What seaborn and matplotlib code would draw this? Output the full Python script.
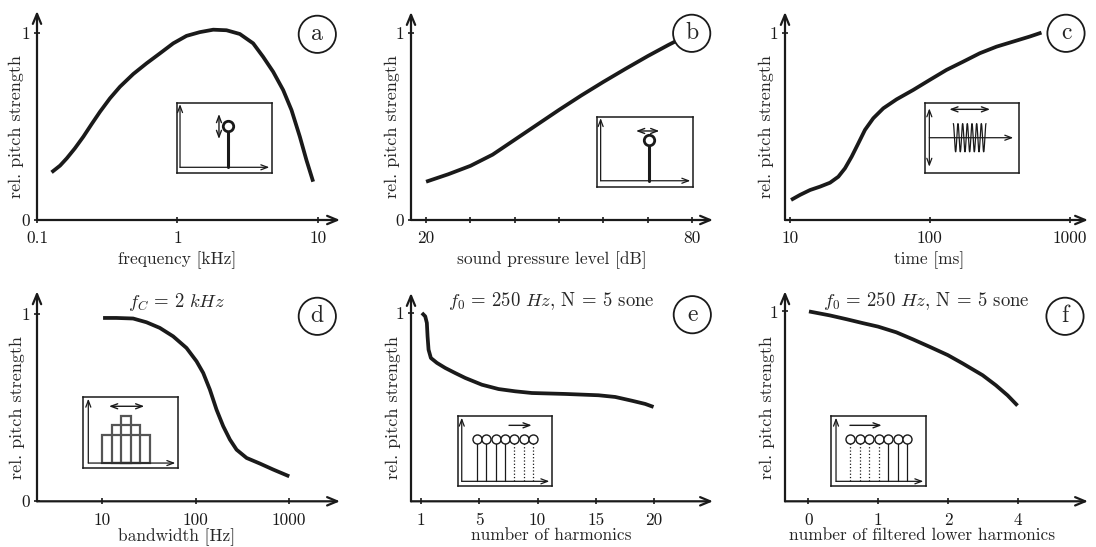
import numpy as np
import pandas as pd
import seaborn as sns
import matplotlib.pyplot as plt

sns.set_theme(style="white")
plt.rcParams['font.family'] = ['cmr10', 'DejaVu Serif']
plt.rcParams['mathtext.fontset'] = 'cm'
plt.rcParams['axes.unicode_minus'] = False

# curve values
freq_khz = [0.127, 0.146, 0.163, 0.186, 0.214, 0.245, 0.281, 0.331, 0.39, 0.485, 0.603, 0.75,
            0.934, 1.162, 1.446, 1.8, 2.238, 2.785, 3.465, 4.08, 4.81, 5.67, 6.5, 7.45, 8.3, 9.27]
freq_ps = [0.255, 0.291, 0.33, 0.383, 0.446, 0.513, 0.579, 0.651, 0.713, 0.781, 0.838, 0.891,
           0.945, 0.985, 1.005, 1.018, 1.015, 0.995, 0.945, 0.873, 0.793, 0.695, 0.588, 0.446, 0.321, 0.205]

spl_db = [20, 25, 30, 35, 40, 45, 50, 55, 60, 65, 70, 74.6, 77.5]
spl_ps = [0.205, 0.245, 0.29, 0.35, 0.43, 0.51, 0.59, 0.667, 0.74, 0.81, 0.878, 0.937, 0.972]

time_ms = [10.16, 11.79, 13.9, 16.38, 19.31, 22.14, 24.71, 27.57, 30.77, 34.34, 39.37, 46.42,
           57.8, 76.0, 100, 131.5, 173, 227.6, 299.4, 393.8, 517.9, 627.9]
time_ps = [0.107, 0.134, 0.16, 0.178, 0.199, 0.231, 0.276, 0.338, 0.409, 0.481, 0.543, 0.596,
           0.644, 0.694, 0.748, 0.801, 0.845, 0.89, 0.925, 0.952, 0.979, 1.0]

bw_hz = [10.26, 14.24, 21.47, 29.83, 41.4, 57.5, 79.88, 102.2, 120.4, 141.9, 167.2, 197,
         232.2, 273.6, 350.1, 486.1, 674.8, 1000]
bw_ps = [0.977, 0.977, 0.974, 0.954, 0.924, 0.879, 0.817, 0.746, 0.684, 0.595, 0.488, 0.4,
         0.329, 0.275, 0.231, 0.201, 0.169, 0.133]

# panel e and f: positions along the (evenly spaced) tick axis
harm_pos = [0.017, 0.074, 0.102, 0.114, 0.131, 0.171, 0.274, 0.417, 0.588, 0.76, 1.046, 1.332,
            1.618, 1.903, 2.475, 3.047, 3.333, 3.619, 3.847, 3.99]
harm_ps = [1.0, 0.982, 0.947, 0.876, 0.805, 0.761, 0.735, 0.708, 0.681, 0.655, 0.619, 0.596,
           0.584, 0.575, 0.57, 0.563, 0.554, 0.534, 0.517, 0.501]
harm_ticks = ['1', '5', '10', '15', '20']

filt_pos = [0.01, 0.309, 0.547, 0.784, 0.998, 1.259, 1.496, 1.734, 1.995, 2.208, 2.493, 2.683, 2.85, 2.992]
filt_ps = [1.0, 0.979, 0.959, 0.938, 0.92, 0.89, 0.853, 0.814, 0.77, 0.726, 0.664, 0.611, 0.558, 0.504]
filt_ticks = ['0', '1', '2', '4']

W, H = 1096, 547
fig = plt.figure(figsize=(W / 100, H / 100), dpi=100)


def px_ax(l, t, r, b):
    return fig.add_axes([l / W, 1 - b / H, (r - l) / W, (b - t) / H])


def frac(box, x, y):
    l, t, r, b = box
    return (x - l) / (r - l), (b - y) / (b - t)


def main_axes(box, xlim, ylim, log=False):
    ax = px_ax(*box)
    if log:
        ax.set_xscale('log')
    ax.set_xlim(*xlim)
    ax.set_ylim(*ylim)
    ax.set_facecolor('none')
    for s in ax.spines.values():
        s.set_visible(False)
    for tip in [(1, 0), (0, 1)]:
        ax.annotate('', xy=tip, xytext=(0, 0), xycoords='axes fraction',
                    arrowprops=dict(arrowstyle='->,head_length=0.6,head_width=0.25', lw=1.6,
                                    color='k', shrinkA=0, shrinkB=0))
    ax.tick_params(direction='inout', length=4, width=1.2, colors='k', labelsize=12.5,
                   bottom=True, left=True)
    ax.tick_params(axis='x', pad=6)
    ax.tick_params(axis='y', pad=3)
    ax.minorticks_off()
    return ax


def labels(ax, box, xlabel, xl_px, yl_px, letter, circ_px, title=None, title_px=None):
    ax.set_xlabel(xlabel, fontsize=12.5)
    fx, fy = frac(box, *xl_px)
    ax.xaxis.set_label_coords(fx, fy)
    ax.set_ylabel('rel. pitch strength', fontsize=13)
    fx, fy = frac(box, *yl_px)
    ax.yaxis.set_label_coords(fx, fy)
    cx, cy = frac(box, *circ_px)
    ax.text(cx, cy, letter, transform=ax.transAxes, ha='center', va='center', fontsize=17,
            zorder=10, bbox=dict(boxstyle='circle,pad=0.32', fc='white', ec='k', lw=1.3))
    if title:
        tx, ty = frac(box, *title_px)
        ax.text(tx, ty, title, transform=ax.transAxes, ha='center', va='center', fontsize=13.5)


def curve(ax, x, y):
    sns.lineplot(x=x, y=y, ax=ax, color='k', lw=2.7, sort=False, solid_capstyle='butt',
                 solid_joinstyle='round')


def inset(box, vx, hy, vtop=0.98, hright=0.975, double_v=False):
    iax = px_ax(*box)
    iax.set_xlim(0, 1)
    iax.set_ylim(0, 1)
    iax.set_xticks([])
    iax.set_yticks([])
    iax.set_facecolor('white')
    for s in iax.spines.values():
        s.set_visible(True)
        s.set_color('k')
        s.set_linewidth(1.1)
    st = '<->' if double_v else '->'
    y0 = hy if not double_v else 0.093
    iax.annotate('', xy=(vx, vtop), xytext=(vx, y0),
                 arrowprops=dict(arrowstyle=st + ',head_length=0.4,head_width=0.15', lw=0.9, color='k',
                                 shrinkA=0, shrinkB=0))
    iax.annotate('', xy=(hright, hy), xytext=(vx, hy),
                 arrowprops=dict(arrowstyle='->,head_length=0.4,head_width=0.15', lw=0.9, color='k',
                                 shrinkA=0, shrinkB=0))
    return iax


def dbl_arrow(iax, x0, y0, x1, y1, style='<->'):
    iax.annotate('', xy=(x1, y1), xytext=(x0, y0),
                 arrowprops=dict(arrowstyle=style + ',head_length=0.4,head_width=0.15', lw=1.0, color='k',
                                 shrinkA=0, shrinkB=0))


# ---- a: frequency
box = (37, 11, 340, 220)
ax = main_axes(box, (0.1, 14.4), (0, 1.118), log=True)
curve(ax, freq_khz, freq_ps)
ax.set_xticks([0.1, 1, 10], ['0.1', '1', '10'])
ax.set_yticks([0, 1], ['0', '1'])
labels(ax, box, 'frequency [kHz]', (176.7, 251), (24, 126.5), 'a', (317.3, 34.3))
iax = inset((176.7, 102.7, 271.7, 173.3), 0.035, 0.085)
iax.plot([0.543, 0.543], [0.085, 0.67], color='k', lw=2.2)
iax.plot([0.543], [0.67], 'o', mfc='white', mec='k', ms=7.5, mew=2)
dbl_arrow(iax, 0.445, 0.486, 0.445, 0.84)

# ---- b: sound pressure level
box = (411, 12, 713, 220)
ax = main_axes(box, (16.6, 84.7), (0, 1.114))
curve(ax, spl_db, spl_ps)
ax.set_xticks([20, 30, 40, 50, 60, 70, 80], ['20', '', '', '', '', '', '80'])
ax.set_yticks([0, 1], ['0', '1'])
labels(ax, box, 'sound pressure level [dB]', (551.7, 251), (400, 126.5), 'b', (691.7, 33.3))
iax = inset((597.3, 116.7, 692.7, 186.7), 0.035, 0.085)
iax.plot([0.539, 0.539], [0.085, 0.667], color='k', lw=2.2)
iax.plot([0.539], [0.667], 'o', mfc='white', mec='k', ms=7.5, mew=2)
dbl_arrow(iax, 0.406, 0.796, 0.65, 0.796)

# ---- c: time
box = (785, 12, 1088, 220)
ax = main_axes(box, (9.2, 1351), (0, 1.11), log=True)
curve(ax, time_ms, time_ps)
ax.set_xticks([10, 100, 1000], ['10', '100', '1000'])
ax.set_yticks([1], ['1'])
labels(ax, box, 'time [ms]', (929.3, 251), (774, 126.5), 'c', (1066, 33.3))
iax = inset((925, 102.7, 1019.3, 173.3), 0.046, 0.504, vtop=0.92, hright=0.936, double_v=True)
# tone burst pictogram
tb = np.linspace(0.30, 0.647, 400)
iax.plot(tb, 0.504 + 0.2 * np.sin(2 * np.pi * 7 * (tb - 0.30) / 0.347 + np.pi / 2), color='k', lw=0.9)
dbl_arrow(iax, 0.258, 0.906, 0.69, 0.906)

# ---- d: bandwidth
box = (37, 291.3, 340, 501.3)
ax = main_axes(box, (2.02, 3483), (0, 1.119), log=True)
curve(ax, bw_hz, bw_ps)
ax.set_xticks([10, 100, 1000], ['10', '100', '1000'])
ax.set_yticks([0, 1], ['0', '1'])
labels(ax, box, 'bandwidth [Hz]', (176.7, 528), (25, 407.5), 'd', (317.3, 316.3),
       r'$f_C\,=\,2\ kHz$', (176.7, 302.3))
iax = inset((82.7, 397.3, 177.7, 468), 0.059, 0.07)
bar_cx = [0.454, 0.454, 0.454]
bar_w = [0.508, 0.298, 0.102]
bar_h = [0.401, 0.534, 0.67]
iax.bar(bar_cx, bar_h, width=bar_w, bottom=0.07, fill=False, edgecolor='#555555', lw=1.6)
dbl_arrow(iax, 0.277, 0.873, 0.648, 0.873)

# ---- e: number of harmonics
box = (411, 293, 713, 501.3)
ax = main_axes(box, (-0.17, 5.01), (0, 1.106))
curve(ax, harm_pos, harm_ps)
ax.set_xticks(range(len(harm_ticks)), harm_ticks)
ax.set_yticks([1], ['1'])
labels(ax, box, 'number of harmonics', (551.7, 528), (401, 407.5), 'e', (692.3, 314.7),
       r'$f_0\,=\,250\ Hz$, N = 5 sone', (551.7, 301.3))
iax = inset((457.7, 416.3, 551.7, 486.3), 0.043, 0.071)
stem_x = [0.202 + 0.1004 * i for i in range(7)]
for i, x in enumerate(stem_x):
    iax.plot([x, x], [0.071, 0.68], color='k', lw=0.9, ls='-' if i < 4 else ':')
iax.plot(stem_x, [0.68] * 7, 'o', ls='none', mfc='white', mec='k', ms=6.5, mew=1.0)
dbl_arrow(iax, 0.546, 0.871, 0.787, 0.871, style='->')

# ---- f: filtered lower harmonics
box = (785, 291.3, 1088, 501.3)
ax = main_axes(box, (-0.333, 4.0), (0, 1.106))
curve(ax, filt_pos, filt_ps)
ax.set_xticks(range(len(filt_ticks)), filt_ticks)
ax.set_yticks([1], ['1'])
labels(ax, box, 'number of filtered lower harmonics', (921.7, 528), (775, 407.5), 'f',
       (1065, 316.3), r'$f_0\,=\,250\ Hz$, N = 5 sone', (926.7, 301.3))
iax = inset((831, 416.3, 925.7, 486.3), 0.053, 0.071)
stem_x = [0.204 + 0.1 * i for i in range(7)]
for i, x in enumerate(stem_x):
    iax.plot([x, x], [0.071, 0.68], color='k', lw=0.9, ls=':' if i < 4 else '-')
iax.plot(stem_x, [0.68] * 7, 'o', ls='none', mfc='white', mec='k', ms=6.5, mew=1.0)
dbl_arrow(iax, 0.2, 0.871, 0.535, 0.871, style='->')

fig.savefig('out.png', dpi=100, facecolor='white')
